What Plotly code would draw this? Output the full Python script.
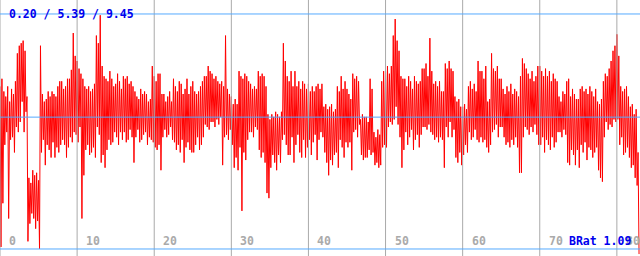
import plotly.graph_objects as go

# sample spacing along the x axis (units)
X_STEP = 0.125

# series read from the picture as alternating local peaks and troughs
# (each peak is followed by the trough read just after it)
peaks = [
    6.6, 6.9, 6.4, 6.2, 6.6, 6.0, 6.5, 6.3, 6.8, 7.9,
    8.2, 8.3, 8.4, 8.0, 6.2, 3.0, 2.8, 3.3, 3.1, 3.2,
    2.9, 8.2, 6.3, 6.0, 6.1, 6.4, 6.2, 6.4, 6.3, 6.2,
    6.6, 6.8, 6.8, 6.5, 6.6, 6.9, 6.9, 7.25, 8.7, 7.8,
    7.6, 7.3, 7.1, 6.9, 6.6, 6.5, 6.6, 6.4, 6.5, 6.7,
    8.6, 8.3, 9.4, 7.4, 7.0, 6.9, 6.8, 7.2, 6.9, 6.6,
    6.7, 7.1, 6.8, 6.5, 7.0, 6.9, 7.0, 6.7, 6.8, 6.6,
    6.4, 6.2, 6.1, 6.5, 6.3, 6.4, 6.3, 6.0, 6.1, 7.4,
    7.0, 6.8, 7.1, 7.1, 6.3, 6.3, 6.0, 6.2, 6.4, 6.0,
    6.9, 6.6, 6.4, 6.8, 6.7, 6.3, 6.5, 6.9, 6.3, 6.6,
    6.8, 6.4, 6.3, 6.4, 6.6, 6.8, 7.0, 7.0, 7.4, 7.2,
    7.1, 6.9, 7.0, 6.8, 6.7, 6.8, 6.6, 8.6, 6.5, 6.3,
    6.2, 5.9, 6.1, 5.9, 7.2, 7.0, 6.9, 7.1, 7.0, 6.8,
    6.7, 6.5, 6.6, 6.5, 7.2, 7.0, 7.1, 7.0, 6.6, 5.5,
    5.3, 5.5, 5.4, 5.6, 5.5, 5.4, 5.6, 8.3, 7.6, 7.0,
    6.8, 7.2, 6.6, 7.2, 6.6, 6.8, 6.5, 6.8, 6.7, 6.5,
    6.7, 6.4, 6.6, 6.4, 6.6, 6.7, 6.5, 6.7, 5.8, 5.9,
    5.7, 5.8, 5.9, 5.6, 5.7, 6.6, 6.4, 7.0, 6.5, 6.8,
    6.5, 6.3, 6.1, 7.1, 6.9, 7.0, 6.8, 5.3, 5.5, 5.4,
    5.4, 5.2, 6.9, 6.5, 4.8, 4.6, 4.9, 4.7, 6.8, 7.2,
    7.2, 7.4, 7.1, 7.4, 8.6, 9.25, 8.4, 8.0, 7.0, 6.9,
    6.9, 6.6, 7.0, 6.8, 6.5, 7.0, 6.8, 6.7, 6.8, 7.3,
    7.3, 7.5, 7.0, 8.5, 7.2, 6.7, 6.8, 6.6, 6.8, 6.4,
    6.4, 7.5, 7.3, 7.6, 7.3, 7.2, 6.2, 6.0, 6.1, 5.8,
    5.8, 5.9, 5.7, 6.6, 6.8, 6.5, 6.7, 6.4, 7.6, 7.2,
    7.2, 6.9, 7.4, 6.0, 6.1, 7.9, 7.3, 7.2, 7.4, 6.9,
    6.9, 6.5, 6.3, 6.6, 6.4, 6.7, 6.3, 6.5, 6.4, 6.2,
    7.0, 7.7, 7.5, 7.3, 7.1, 6.9, 7.2, 6.8, 7.0, 7.4,
    7.4, 7.2, 7.0, 7.3, 7.0, 7.2, 6.8, 7.1, 6.9, 6.8,
    6.2, 6.0, 6.4, 6.3, 6.8, 6.9, 6.2, 6.5, 6.3, 6.1,
    6.1, 6.5, 6.6, 6.4, 6.5, 6.3, 6.6, 6.4, 6.2, 6.5,
    6.0, 5.9, 6.1, 6.8, 7.1, 7.0, 7.3, 7.6, 8.0, 8.2,
    8.65, 7.8, 6.6, 6.4, 6.5, 6.6, 6.2, 5.8, 5.9, 5.5,
    5.7, 4.0,
]
troughs = [
    0.28, 2.0, 4.3, 4.8, 1.4, 4.5, 4.6, 4.0, 5.0, 4.8,
    5.2, 6.0, 4.8, 5.6, 0.5, 1.2, 1.6, 1.4, 1.0, 1.3,
    0.2, 4.0, 4.5, 3.5, 4.3, 4.1, 3.8, 4.4, 3.8, 4.2,
    4.0, 4.3, 4.5, 4.3, 3.8, 4.2, 4.6, 4.4, 4.8, 4.7,
    4.4, 5.0, 1.4, 3.1, 4.1, 4.3, 3.9, 4.0, 4.2, 3.8,
    5.0, 4.7, 3.6, 3.9, 3.4, 4.1, 4.5, 4.3, 4.4, 4.8,
    4.6, 4.3, 4.8, 4.5, 4.8, 4.4, 4.5, 4.9, 4.6, 3.6,
    4.6, 4.9, 4.4, 4.5, 4.7, 4.8, 4.3, 4.6, 4.5, 4.4,
    4.2, 4.1, 4.3, 3.3, 4.6, 4.9, 4.6, 4.7, 5.0, 4.5,
    4.4, 4.1, 4.3, 4.0, 4.5, 3.6, 4.2, 4.4, 4.1, 4.0,
    4.0, 4.3, 4.6, 4.1, 4.3, 4.6, 5.1, 5.0, 4.9, 5.2,
    5.2, 5.0, 5.3, 5.1, 5.4, 3.5, 4.6, 4.7, 4.5, 4.9,
    4.3, 3.4, 3.8, 3.3, 4.2, 1.7, 4.0, 3.7, 4.5, 4.8,
    4.8, 4.6, 5.0, 4.9, 4.1, 3.8, 4.0, 3.6, 2.4, 2.2,
    3.4, 3.9, 3.6, 3.3, 3.9, 3.6, 4.5, 4.7, 4.3, 3.9,
    3.9, 4.6, 3.6, 4.3, 4.7, 4.0, 3.8, 4.5, 3.8, 4.2,
    4.5, 3.9, 4.4, 4.7, 3.7, 4.5, 4.8, 4.6, 4.0, 3.6,
    3.1, 3.7, 3.5, 3.9, 4.0, 3.4, 4.5, 4.2, 3.8, 4.4,
    4.2, 4.4, 3.3, 4.8, 4.9, 4.6, 5.1, 3.9, 3.7, 3.8,
    3.8, 4.1, 3.9, 4.0, 3.5, 3.6, 3.4, 3.5, 4.2, 4.3,
    4.2, 5.0, 5.2, 5.1, 5.3, 5.8, 5.1, 4.6, 3.4, 4.1,
    4.8, 4.3, 4.6, 4.9, 4.1, 4.5, 4.7, 4.2, 4.7, 5.0,
    5.0, 4.9, 5.1, 4.8, 4.7, 4.5, 4.6, 4.4, 4.6, 4.5,
    3.4, 5.0, 4.6, 5.2, 4.6, 4.9, 3.8, 3.6, 4.0, 3.5,
    3.9, 4.3, 4.0, 4.8, 4.5, 4.6, 4.9, 4.5, 4.4, 4.6,
    4.4, 4.5, 4.2, 4.0, 4.3, 4.8, 4.9, 5.1, 4.6, 5.0,
    5.0, 4.6, 4.3, 4.4, 4.2, 4.5, 4.3, 4.6, 4.2, 3.2,
    3.2, 4.6, 5.0, 4.9, 4.7, 5.0, 4.8, 5.1, 4.7, 4.3,
    4.3, 4.6, 4.0, 4.5, 4.3, 4.1, 4.6, 4.2, 4.4, 4.8,
    4.8, 4.6, 4.9, 4.7, 3.6, 3.5, 4.1, 3.9, 3.5, 4.1,
    3.4, 4.3, 4.0, 4.4, 3.7, 4.2, 4.1, 3.8, 4.0, 4.2,
    3.3, 3.0, 2.85, 4.6, 5.2, 4.9, 5.1, 5.0, 5.3, 5.2,
    5.3, 4.3, 4.6, 3.9, 4.0, 4.2, 3.8, 3.4, 3.5, 3.0,
    2.7, 0.0,
]

values = [v for pair in zip(peaks, troughs) for v in pair]
x_values = [i * X_STEP for i in range(len(values))]

# summary statistics shown in the header: min / mean / max
stats = [0.20, 5.39, 9.45]
stat_text = "0.20 / 5.39 / 9.45"
ratio_text = "BRat 1.09"

# x tick labels
x_ticks = [0, 10, 20, 30, 40, 50, 60, 70, 80]
x_tick_labels = ["0", "10", "20", "30", "40", "50", "60", "70", "80"]

X_RANGE = [0, 83.0]
Y_RANGE = [-0.076, 10.0]

FONT = "DejaVu Sans Mono"

fig = go.Figure()
fig.add_trace(go.Scatter(
    x=x_values, y=values, mode="lines",
    line=dict(color="#ff0000", width=1),
    hoverinfo="skip", showlegend=False,
))

shapes = []
for t in x_ticks:
    shapes.append(dict(type="line", xref="x", yref="paper", x0=t, x1=t, y0=0, y1=1,
                       line=dict(color="#aaaaaa", width=1), layer="above"))
for s in stats:
    shapes.append(dict(type="line", xref="paper", yref="y", x0=0, x1=1, y0=s, y1=s,
                       line=dict(color="#55aaff", width=1), layer="above"))

annotations = []
for t, lab in zip(x_ticks, x_tick_labels):
    annotations.append(dict(x=t, y=0.06, xref="x", yref="paper", text="<b>%s</b>" % lab,
                            showarrow=False, xanchor="left", yanchor="middle", xshift=7,
                            font=dict(family=FONT, size=11.5, color="#aaaaaa")))
annotations.append(dict(x=0, y=stats[2], xref="x", yref="y", text="<b>%s</b>" % stat_text,
                        showarrow=False, xanchor="left", yanchor="middle", xshift=7,
                        font=dict(family=FONT, size=11.5, color="#0000ee")))
annotations.append(dict(x=1, y=0.06, xref="paper", yref="paper", text="<b>%s</b>" % ratio_text,
                        showarrow=False, xanchor="right", yanchor="middle", xshift=-7,
                        font=dict(family=FONT, size=11.5, color="#0000ee")))

fig.update_layout(
    width=640, height=256,
    margin=dict(l=0, r=0, t=0, b=0),
    paper_bgcolor="white", plot_bgcolor="white",
    xaxis=dict(range=X_RANGE, showgrid=False, zeroline=False, showticklabels=False,
               showline=False, fixedrange=True),
    yaxis=dict(range=Y_RANGE, showgrid=False, zeroline=False, showticklabels=False,
               showline=False, fixedrange=True),
    shapes=shapes,
    annotations=annotations,
    showlegend=False,
)

fig.write_html("out.html", config={"displayModeBar": False})
